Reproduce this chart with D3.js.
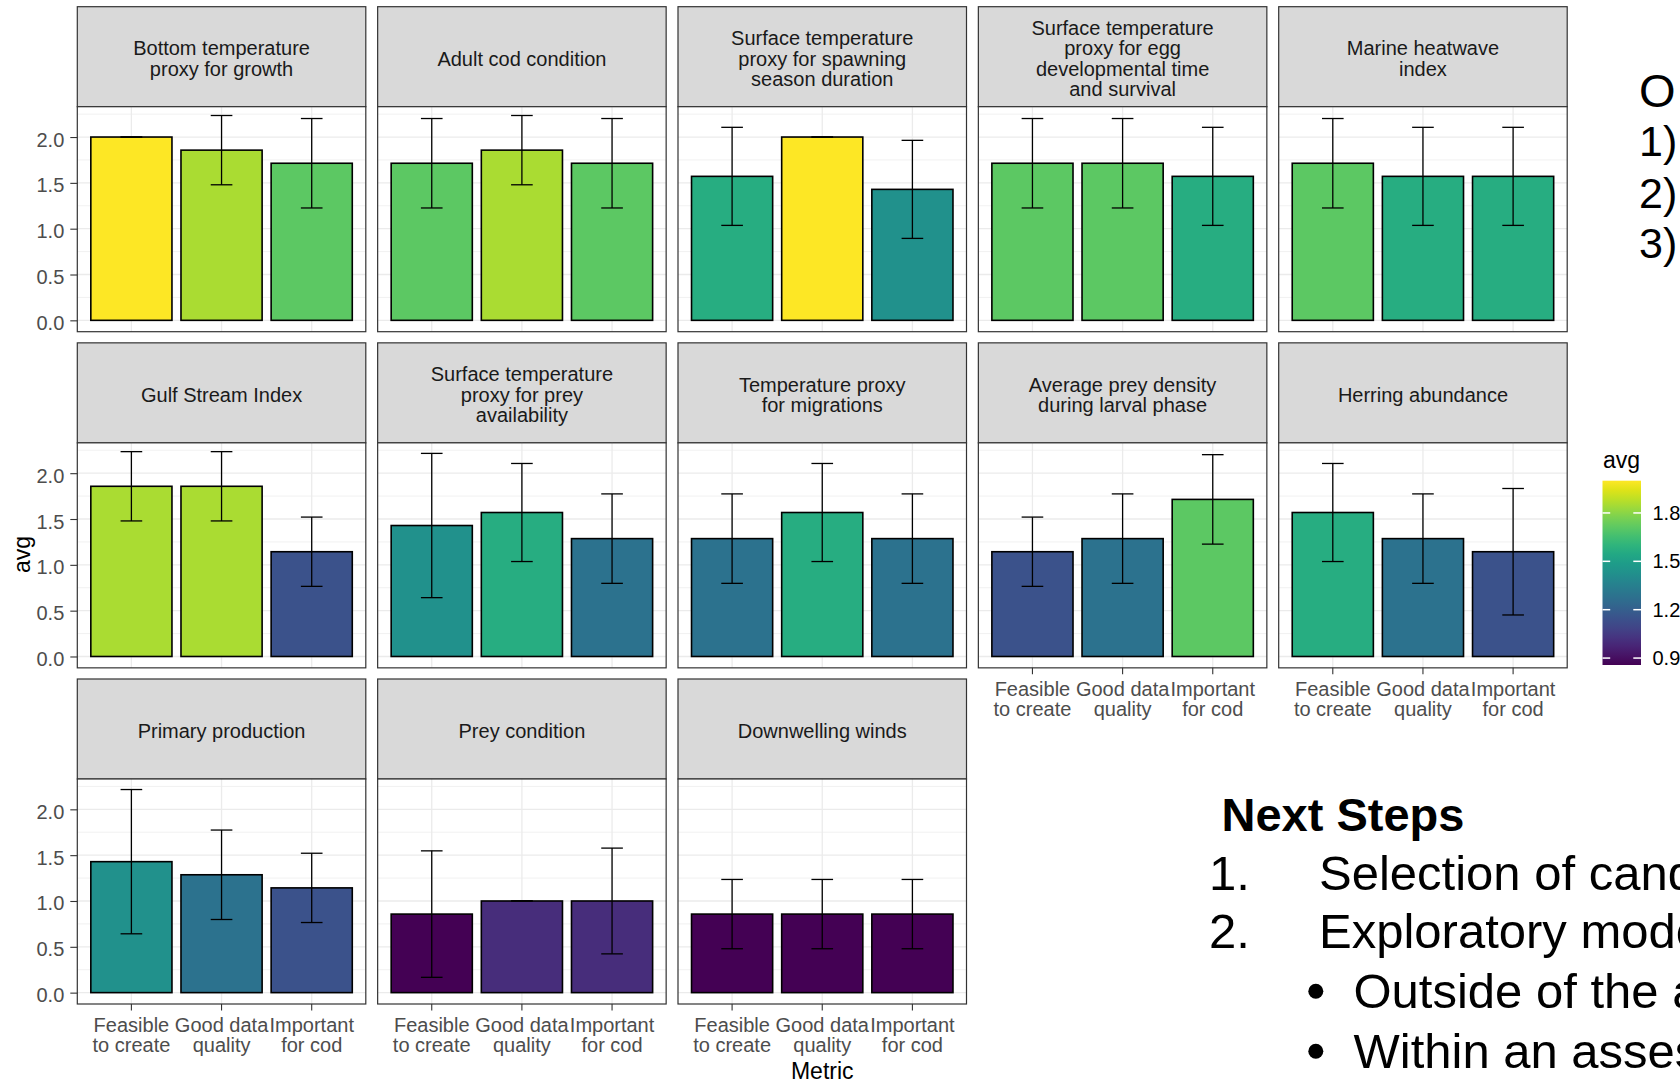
<!DOCTYPE html>
<html><head><meta charset="utf-8">
<script src="https://cdn.jsdelivr.net/npm/d3@7"></script>
<style>
html,body{margin:0;padding:0;background:#fff;overflow:hidden;}
svg{display:block;font-family:"Liberation Sans",Arial,Helvetica,sans-serif;}
</style></head><body>
<svg id="chart" width="1680" height="1081"></svg>
<script>
// ---------------- DATA ----------------
const indicators = [
  "Bottom temperature proxy for growth",
  "Adult cod condition",
  "Surface temperature proxy for spawning season duration",
  "Surface temperature proxy for egg developmental time and survival",
  "Marine heatwave index",
  "Gulf Stream Index",
  "Surface temperature proxy for prey availability",
  "Temperature proxy for migrations",
  "Average prey density during larval phase",
  "Herring abundance",
  "Primary production",
  "Prey condition",
  "Downwelling winds"
];
const stripLabels = [
  ["Bottom temperature", "proxy for growth"],
  ["Adult cod condition"],
  ["Surface temperature", "proxy for spawning", "season duration"],
  ["Surface temperature", "proxy for egg", "developmental time", "and survival"],
  ["Marine heatwave", "index"],
  ["Gulf Stream Index"],
  ["Surface temperature", "proxy for prey", "availability"],
  ["Temperature proxy", "for migrations"],
  ["Average prey density", "during larval phase"],
  ["Herring abundance"],
  ["Primary production"],
  ["Prey condition"],
  ["Downwelling winds"]
];
const metrics = ["Feasible to create", "Good data quality", "Important for cod"];
const metricLabels = [["Feasible", "to create"], ["Good data", "quality"], ["Important", "for cod"]];
// mean score per indicator (rows) and metric (columns)
const avgValues = [
  [2.000, 1.857, 1.714],
  [1.714, 1.857, 1.714],
  [1.571, 2.000, 1.429],
  [1.714, 1.714, 1.571],
  [1.714, 1.571, 1.571],
  [1.857, 1.857, 1.143],
  [1.429, 1.571, 1.286],
  [1.286, 1.571, 1.286],
  [1.143, 1.286, 1.714],
  [1.571, 1.286, 1.143],
  [1.429, 1.286, 1.143],
  [0.857, 1.000, 1.000],
  [0.857, 0.857, 0.857]
];
// standard deviation (error bar half-length)
const sdValues = [
  [0.000, 0.378, 0.488],
  [0.488, 0.378, 0.488],
  [0.535, 0.000, 0.535],
  [0.488, 0.488, 0.535],
  [0.488, 0.535, 0.535],
  [0.378, 0.378, 0.378],
  [0.787, 0.535, 0.488],
  [0.488, 0.535, 0.488],
  [0.378, 0.488, 0.488],
  [0.535, 0.488, 0.690],
  [0.787, 0.488, 0.378],
  [0.690, 0.000, 0.577],
  [0.378, 0.378, 0.378]
];
const yTicks = [0, 0.5, 1.0, 1.5, 2.0];
const yMinorTicks = [0.25, 0.75, 1.25, 1.75, 2.25];
const legendTicks = [0.9, 1.2, 1.5, 1.8];
const yTitle = "avg";
const xTitle = "Metric";
const legendTitle = "avg";
const slideTopLines = ["O", "1)", "2)", "3)"];
const slideNextTitle = "Next Steps";
const slideNumbered = [["1.", "Selection of candidate indicators"], ["2.", "Exploratory modeling"]];
const slideBullets = ["Outside of the assessment", "Within an assessment"];

// ---------------- LAYOUT ----------------
const svg = d3.select("#chart");
const L = {x0: 77.3, colPitch: 300.35, panelW: 288.5, y0: 6.7, rowPitch: 336.15,
           stripH: 100, panelH: 225, nCol: 5};
const FONT = '"Liberation Sans",Arial,Helvetica,sans-serif';

const x = d3.scaleBand().domain(metrics).range([0, L.panelW]).paddingInner(0.1).paddingOuter(0.15);
const y = d3.scaleLinear().domain([-0.124, 2.331]).range([L.panelH, 0]);
const allAvg = avgValues.flat();
const color = d3.scaleSequential(d3.interpolateViridis).domain([d3.min(allAvg), d3.max(allAvg)]);
const nPanels = indicators.length;

indicators.forEach((name, i) => {
  const col = i % L.nCol, row = Math.floor(i / L.nCol);
  const px = L.x0 + col * L.colPitch;
  const py = L.y0 + row * L.rowPitch + L.stripH;
  const g = svg.append("g").attr("transform", `translate(${px},${py})`);

  // strip
  g.append("rect").attr("x", 0).attr("y", -L.stripH).attr("width", L.panelW).attr("height", L.stripH)
    .attr("fill", "#D9D9D9").attr("stroke", "#333333").attr("stroke-width", 1.2);
  const lines = stripLabels[i];
  const st = g.append("text").attr("text-anchor", "middle").attr("font-size", 20).attr("fill", "#1A1A1A");
  lines.forEach((ln, k) => st.append("tspan").attr("x", L.panelW / 2)
    .attr("y", -L.stripH / 2 + 9 + (k - (lines.length - 1) / 2) * 20.5).text(ln));

  // panel background
  g.append("rect").attr("width", L.panelW).attr("height", L.panelH).attr("fill", "#fff");

  // grid
  g.selectAll(".gmin").data(yMinorTicks).join("line")
    .attr("x1", 0).attr("x2", L.panelW).attr("y1", d => y(d)).attr("y2", d => y(d))
    .attr("stroke", "#EBEBEB").attr("stroke-width", 0.7);
  g.selectAll(".gmaj").data(yTicks).join("line")
    .attr("x1", 0).attr("x2", L.panelW).attr("y1", d => y(d)).attr("y2", d => y(d))
    .attr("stroke", "#EBEBEB").attr("stroke-width", 1.3);
  g.selectAll(".gx").data(metrics).join("line")
    .attr("x1", d => x(d) + x.bandwidth() / 2).attr("x2", d => x(d) + x.bandwidth() / 2)
    .attr("y1", 0).attr("y2", L.panelH)
    .attr("stroke", "#EBEBEB").attr("stroke-width", 1.3);

  const rows = metrics.map((m, j) => ({m, v: avgValues[i][j], sd: sdValues[i][j]}));

  // bars
  g.selectAll(".bar").data(rows).join("rect")
    .attr("x", d => x(d.m)).attr("width", x.bandwidth())
    .attr("y", d => y(d.v)).attr("height", d => y(0) - y(d.v))
    .attr("fill", d => color(d.v)).attr("stroke", "#000").attr("stroke-width", 1.6);

  // error bars
  const capW = x.bandwidth() * 0.2667;
  const eb = g.selectAll(".eb").data(rows).join("g")
    .attr("transform", d => `translate(${x(d.m) + x.bandwidth() / 2},0)`);
  eb.append("line").attr("x1", 0).attr("x2", 0)
    .attr("y1", d => y(d.v - d.sd)).attr("y2", d => y(d.v + d.sd))
    .attr("stroke", "#000").attr("stroke-width", 1.3);
  eb.append("line").attr("x1", -capW / 2).attr("x2", capW / 2)
    .attr("y1", d => y(d.v + d.sd)).attr("y2", d => y(d.v + d.sd))
    .attr("stroke", "#000").attr("stroke-width", 1.3);
  eb.append("line").attr("x1", -capW / 2).attr("x2", capW / 2)
    .attr("y1", d => y(d.v - d.sd)).attr("y2", d => y(d.v - d.sd))
    .attr("stroke", "#000").attr("stroke-width", 1.3);

  // border
  g.append("rect").attr("width", L.panelW).attr("height", L.panelH)
    .attr("fill", "none").attr("stroke", "#333333").attr("stroke-width", 1.2);

  // y axis
  if (col === 0) {
    const yg = g.append("g").call(d3.axisLeft(y).tickValues(yTicks).tickFormat(d3.format(".1f"))
      .tickSize(7).tickPadding(6));
    yg.attr("font-family", FONT).attr("font-size", 20);
    yg.select(".domain").remove();
    yg.selectAll(".tick line").attr("stroke", "#333333").attr("stroke-width", 1.1);
    yg.selectAll(".tick text").attr("fill", "#4D4D4D").attr("dy", "0.45em");
  }
  // x axis
  if (i + L.nCol >= nPanels) {
    const xg = g.append("g").attr("transform", `translate(0,${L.panelH})`)
      .call(d3.axisBottom(x).tickSize(6.5).tickPadding(0).tickFormat(() => ""));
    xg.attr("font-family", FONT).attr("font-size", 20);
    xg.select(".domain").remove();
    xg.selectAll(".tick line").attr("stroke", "#333333").attr("stroke-width", 1.1);
    xg.selectAll(".tick text").each(function(d) {
      const t = d3.select(this).attr("dy", null).attr("y", null).attr("fill", "#4D4D4D");
      metricLabels[metrics.indexOf(d)].forEach((ln, k) =>
        t.append("tspan").attr("x", 0).attr("y", 28.3 + k * 19.5).text(ln));
    });
  }
});

// axis titles
svg.append("text").attr("transform", "translate(30,554.5) rotate(-90)")
  .attr("text-anchor", "middle").attr("font-size", 23).attr("fill", "#000").text(yTitle);
svg.append("text").attr("x", L.x0 + (4 * L.colPitch + L.panelW) / 2).attr("y", 1079)
  .attr("text-anchor", "middle").attr("font-size", 23).attr("fill", "#000").text(xTitle);

// legend
const lg = {x: 1602.5, w: 38.5, top: 480.7, bottom: 665};
const ly = d3.scaleLinear().domain(color.domain()).range([lg.bottom, lg.top]);
const defs = svg.append("defs");
const grad = defs.append("linearGradient").attr("id", "vir").attr("x1", 0).attr("y1", 1).attr("x2", 0).attr("y2", 0);
d3.range(0, 1.0001, 0.05).forEach(t => grad.append("stop").attr("offset", t)
  .attr("stop-color", color(color.domain()[0] + t * (color.domain()[1] - color.domain()[0]))));
svg.append("text").attr("x", 1603).attr("y", 468).attr("font-size", 23).attr("fill", "#000").text(legendTitle);
svg.append("rect").attr("x", lg.x).attr("y", lg.top).attr("width", lg.w).attr("height", lg.bottom - lg.top)
  .attr("fill", "url(#vir)");
const tl = lg.w / 5;
legendTicks.forEach(t => {
  svg.append("line").attr("x1", lg.x).attr("x2", lg.x + tl).attr("y1", ly(t)).attr("y2", ly(t))
    .attr("stroke", "#fff").attr("stroke-width", 1.5);
  svg.append("line").attr("x1", lg.x + lg.w - tl).attr("x2", lg.x + lg.w).attr("y1", ly(t)).attr("y2", ly(t))
    .attr("stroke", "#fff").attr("stroke-width", 1.5);
  svg.append("text").attr("x", lg.x + lg.w + 11.5).attr("y", ly(t)).attr("dy", "0.35em")
    .attr("font-size", 20).attr("fill", "#000").text(d3.format(".1f")(t));
});

// slide text on the right
const topY = [106.7, 156, 208, 258];
const topSize = [47, 43, 43, 43];
slideTopLines.forEach((s, k) => svg.append("text").attr("x", 1639).attr("y", topY[k])
  .attr("font-size", topSize[k]).attr("fill", "#000").text(s));
svg.append("text").attr("x", 1221.5).attr("y", 831).attr("font-size", 47).attr("font-weight", "bold")
  .attr("fill", "#000").text(slideNextTitle);
const numY = [890, 948.3];
slideNumbered.forEach((p, k) => {
  svg.append("text").attr("x", 1209).attr("y", numY[k]).attr("font-size", 49).attr("fill", "#000").text(p[0]);
  svg.append("text").attr("x", 1319).attr("y", numY[k]).attr("font-size", 49).attr("fill", "#000").text(p[1]);
});
const bulY = [1008.3, 1068.3];
slideBullets.forEach((s, k) => {
  svg.append("circle").attr("cx", 1315.8).attr("cy", bulY[k] - 17).attr("r", 7.5).attr("fill", "#000");
  svg.append("text").attr("x", 1353.5).attr("y", bulY[k]).attr("font-size", 49).attr("fill", "#000").text(s);
});
</script>
</body></html>
